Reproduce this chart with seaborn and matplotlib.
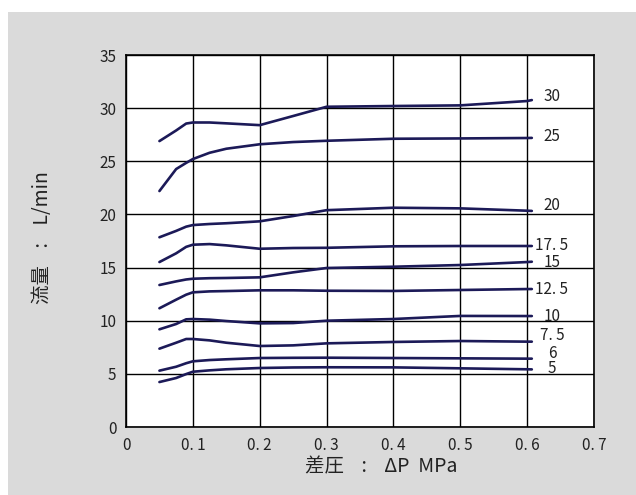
import numpy as np
import pandas as pd
import matplotlib
matplotlib.use("Agg")
import matplotlib.pyplot as plt
import seaborn as sns
from matplotlib.patches import Rectangle

# pressure drop points (MPa)
dp = [0.05, 0.075, 0.09, 0.1, 0.125, 0.15, 0.2, 0.25, 0.3, 0.4, 0.5, 0.6, 0.607]

# flow (L/min) for each setting
flow_30 = [26.9, 27.9, 28.55, 28.65, 28.65, 28.57, 28.4, 29.26, 30.13, 30.2, 30.26, 30.67, 30.76]
flow_25 = [22.2, 24.27, 24.85, 25.21, 25.8, 26.18, 26.6, 26.81, 26.93, 27.12, 27.15, 27.19, 27.2]
flow_20 = [17.85, 18.45, 18.85, 19.0, 19.1, 19.17, 19.35, 19.85, 20.4, 20.63, 20.57, 20.35, 20.33]
flow_175 = [15.52, 16.34, 16.95, 17.15, 17.21, 17.09, 16.77, 16.84, 16.86, 17.0, 17.03, 17.03, 17.03]
flow_15 = [13.36, 13.7, 13.88, 13.95, 14.0, 14.02, 14.08, 14.55, 14.96, 15.08, 15.24, 15.52, 15.55]
flow_125 = [11.17, 11.98, 12.45, 12.67, 12.76, 12.79, 12.86, 12.86, 12.82, 12.8, 12.89, 12.98, 12.98]
flow_10 = [9.19, 9.69, 10.13, 10.16, 10.1, 9.97, 9.75, 9.78, 10.0, 10.16, 10.45, 10.44, 10.44]
flow_75 = [7.37, 7.93, 8.28, 8.28, 8.15, 7.93, 7.62, 7.68, 7.87, 8.0, 8.09, 8.03, 8.03]
flow_6 = [5.3, 5.67, 6.0, 6.18, 6.3, 6.37, 6.49, 6.51, 6.52, 6.49, 6.46, 6.43, 6.43]
flow_5 = [4.23, 4.61, 4.98, 5.2, 5.33, 5.43, 5.55, 5.6, 5.62, 5.61, 5.52, 5.43, 5.42]

series = [flow_30, flow_25, flow_20, flow_175, flow_15, flow_125, flow_10, flow_75, flow_6, flow_5]
curve_labels = ["30", "25", "20", "17. 5", "15", "12. 5", "10", "7. 5", "6", "5"]
label_y = [31.07, 27.3, 20.82, 17.03, 15.52, 12.98, 10.41, 8.59, 6.93, 5.46]

x_ticks = [0, 0.1, 0.2, 0.3, 0.4, 0.5, 0.6, 0.7]
x_ticklabels = ["0", "0. 1", "0. 2", "0. 3", "0. 4", "0. 5", "0. 6", "0. 7"]
y_ticks = [0, 5, 10, 15, 20, 25, 30, 35]

sns.set_theme(style="white")
plt.rcParams['font.family'] = ['Noto Sans CJK JP', 'DejaVu Sans']

line_color = "#1c1a58"
bg_gray = "#dadada"

fig = plt.figure(figsize=(6.36, 4.95), dpi=100, facecolor="white")
# gray panel behind the chart
fig.patches.append(Rectangle((8 / 636, 0), 1, 1 - 12 / 495, transform=fig.transFigure,
                             facecolor=bg_gray, edgecolor="none", zorder=-10))
ax = fig.add_axes([126 / 636, 1 - 427 / 495, 468 / 636, 372 / 495])
ax.set_facecolor("white")

for flow in series:
    sns.lineplot(x=dp, y=flow, ax=ax, color=line_color, linewidth=1.9,
                 estimator=None, sort=False, solid_capstyle="round",
                 solid_joinstyle="round")

for txt, yy in zip(curve_labels, label_y):
    ax.text(0.637, yy, txt, ha="center", va="center", fontsize=11, color="#222222")

ax.set_xlim(0, 0.7)
ax.set_ylim(0, 35)
ax.set_xticks(x_ticks)
ax.set_xticklabels(x_ticklabels)
ax.set_yticks(y_ticks)
ax.grid(True, color="black", linewidth=1.0)
ax.set_axisbelow(True)
for s in ax.spines.values():
    s.set_color("black")
    s.set_linewidth(1.2)
ax.tick_params(length=0, labelsize=11, colors="#222222", pad=7)

ax.set_xlabel("差圧    :    ΔP  MPa", fontsize=14, color="#222222")
ax.xaxis.set_label_coords(0.545, -0.08)
ax.set_ylabel("流量    :    L/min", fontsize=14, color="#222222")
ax.yaxis.set_label_coords(-0.155, 0.51)

fig.savefig("out.png", dpi=100, facecolor=fig.get_facecolor())
